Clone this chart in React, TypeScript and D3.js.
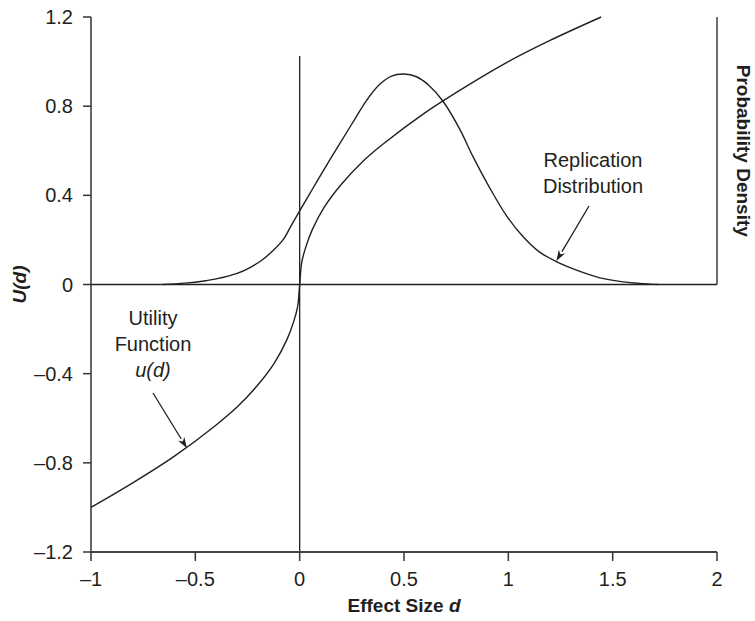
import React from 'react';
import * as d3 from 'd3';

// Utility function u(d)
const utilD = [-1, -0.8, -0.6, -0.4, -0.3, -0.2, -0.12, -0.06, -0.03, -0.01, 0, 0.01, 0.03, 0.06, 0.12, 0.2, 0.3, 0.4, 0.6, 0.8, 1.0, 1.2, 1.445];
const utilU = [-1.0, -0.89, -0.77, -0.63, -0.55, -0.45, -0.35, -0.245, -0.17, -0.1, 0, 0.1, 0.17, 0.245, 0.35, 0.45, 0.55, 0.63, 0.77, 0.89, 1.0, 1.095, 1.2];

// Replication distribution (density, drawn on the same scale)
const densD = [-0.655, -0.55, -0.45, -0.4, -0.3, -0.24, -0.18, -0.13, -0.08, -0.04, 0, 0.05, 0.1, 0.176, 0.25, 0.32, 0.38, 0.44, 0.5, 0.56, 0.62, 0.687, 0.767, 0.83, 0.91, 0.99, 1.07, 1.15, 1.23, 1.34, 1.44, 1.55, 1.65, 1.72];
const densP = [0, 0.006, 0.017, 0.025, 0.05, 0.075, 0.11, 0.15, 0.2, 0.265, 0.33, 0.41, 0.49, 0.607, 0.72, 0.825, 0.895, 0.935, 0.944, 0.932, 0.893, 0.822, 0.697, 0.575, 0.435, 0.31, 0.215, 0.145, 0.103, 0.06, 0.03, 0.012, 0.004, 0];

const xTicks = [-1, -0.5, 0, 0.5, 1, 1.5, 2];
const yTicks = [-1.2, -0.8, -0.4, 0, 0.4, 0.8, 1.2];

const W = 755;
const H = 621;
const margin = { top: 17, right: 38, bottom: 69, left: 91 };

const FONT = '"Liberation Sans", Arial, Helvetica, sans-serif';
const INK = '#231f20';

const fmt = (v: number) => {
  const s = String(v);
  return s.replace('-', '\u2013');
};

const Arrow = ({ x1, y1, x2, y2 }: { x1: number; y1: number; x2: number; y2: number }) => {
  const ang = Math.atan2(y2 - y1, x2 - x1);
  const len = 11;
  const half = 3.6;
  const bx = x2 - len * Math.cos(ang);
  const by = y2 - len * Math.sin(ang);
  const px = -Math.sin(ang) * half;
  const py = Math.cos(ang) * half;
  return (
    <g>
      <line x1={x1} y1={y1} x2={bx} y2={by} stroke={INK} strokeWidth={1.3} />
      <path d={`M${x2},${y2}L${bx + px},${by + py}L${bx + 3 * Math.cos(ang)},${by + 3 * Math.sin(ang)}L${bx - px},${by - py}Z`} fill={INK} />
    </g>
  );
};

export default function App() {
  const x = d3.scaleLinear().domain([-1, 2]).range([margin.left, W - margin.right]);
  const y = d3.scaleLinear().domain([-1.2, 1.2]).range([H - margin.bottom, margin.top]);

  const line = d3.line<[number, number]>()
    .x(d => x(d[0]))
    .y(d => y(d[1]))
    .curve(d3.curveCatmullRom.alpha(0.5));

  const utilPath = line(utilD.map((d, i) => [d, utilU[i]]) as [number, number][]) || '';
  const densPath = line(densD.map((d, i) => [d, densP[i]]) as [number, number][]) || '';

  const x0 = x(-1);
  const x1 = x(2);
  const yb = y(-1.2);
  const yt = y(1.2);

  return (
    <svg width={W} height={H} style={{ position: 'absolute', left: 0, top: 0, background: '#fff' }}
      fontFamily={FONT}>
      {/* reference lines */}
      <line x1={x0} x2={x1} y1={y(0)} y2={y(0)} stroke={INK} strokeWidth={1.3} />
      <line x1={x(0)} x2={x(0)} y1={yb} y2={y(1.025)} stroke={INK} strokeWidth={1.3} />
      <line x1={x1} x2={x1} y1={y(0)} y2={yt} stroke={INK} strokeWidth={1.3} />

      {/* left axis */}
      <line x1={x0} x2={x0} y1={yb} y2={yt} stroke="#333" strokeWidth={1.5} />
      {yTicks.map(t => (
        <g key={t} transform={`translate(0,${y(t)})`}>
          <line x1={x0 - 8} x2={x0} stroke="#333" strokeWidth={1.5} />
          <text x={x0 - 18} dy="0.35em" textAnchor="end" fontSize={20} fill={INK}>{fmt(t)}</text>
        </g>
      ))}

      {/* bottom axis */}
      <line x1={x0} x2={x1} y1={yb} y2={yb} stroke="#444" strokeWidth={2} />
      {xTicks.map(t => (
        <g key={t} transform={`translate(${x(t)},0)`}>
          <line y1={yb} y2={yb + 9} stroke="#333" strokeWidth={1.5} />
          <text y={yb + 34} textAnchor="middle" fontSize={20} fill={INK}>{fmt(t)}</text>
        </g>
      ))}

      {/* curves */}
      <path d={densPath} fill="none" stroke={INK} strokeWidth={1.4} />
      <path d={utilPath} fill="none" stroke={INK} strokeWidth={1.4} />

      {/* axis titles */}
      <text x={(x0 + x1) / 2} y={612} textAnchor="middle" fontSize={19} fontWeight="bold" fill={INK}>
        Effect Size <tspan fontStyle="italic">d</tspan>
      </text>
      <text transform={`translate(26,${(yb + yt) / 2}) rotate(-90)`} textAnchor="middle" fontSize={19}
        fontWeight="bold" fontStyle="italic" fill={INK}>U(d)</text>
      <text transform={`translate(737,${(y(0) + yt) / 2}) rotate(90)`} textAnchor="middle" fontSize={19}
        fontWeight="bold" fill={INK}>Probability Density</text>

      {/* annotations */}
      <g fontSize={20} fill={INK} textAnchor="middle">
        <text x={593} y={167}>Replication</text>
        <text x={593} y={193}>Distribution</text>
        <text x={153} y={325}>Utility</text>
        <text x={153} y={351}>Function</text>
        <text x={153} y={377} fontStyle="italic">u(d)</text>
      </g>
      <Arrow x1={589} y1={206} x2={x(1.23)} y2={y(0.105)} />
      <Arrow x1={153} y1={393} x2={x(-0.54)} y2={y(-0.735)} />
    </svg>
  );
}
